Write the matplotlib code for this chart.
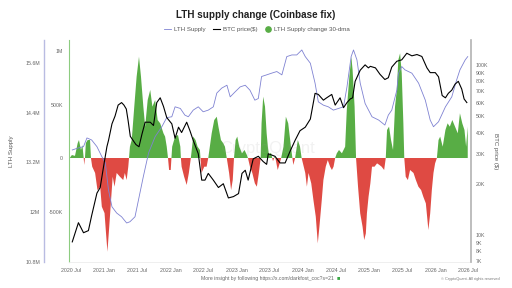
import pandas as pd
import matplotlib
matplotlib.use("Agg")
import matplotlib.pyplot as plt
from matplotlib.lines import Line2D

plt.rcParams["font.family"] = ["Liberation Sans", "DejaVu Sans"]

# =========================
# Data
# =========================
# LTH supply, millions of BTC
lth_dates = [
    "2020-07-08", "2020-08-11", "2020-09-08", "2020-09-27", "2020-10-23", "2020-11-21",
    "2020-12-18", "2021-01-06", "2021-01-24", "2021-02-12", "2021-03-10", "2021-04-06",
    "2021-05-04", "2021-05-22", "2021-06-19", "2021-07-16", "2021-08-04", "2021-09-02",
    "2021-10-08", "2021-11-14", "2021-12-11", "2022-01-08", "2022-01-26", "2022-02-24",
    "2022-03-21", "2022-04-09", "2022-05-06", "2022-06-03", "2022-06-30", "2022-07-28",
    "2022-08-25", "2022-09-13", "2022-10-10", "2022-11-08", "2022-11-26", "2022-12-23",
    "2023-01-20", "2023-02-17", "2023-03-15", "2023-04-11", "2023-04-30", "2023-05-18",
    "2023-06-15", "2023-07-12", "2023-08-10", "2023-09-07", "2023-10-04", "2023-11-01",
    "2023-11-28", "2023-12-26", "2024-01-14", "2024-02-11", "2024-03-08", "2024-03-26",
    "2024-04-23", "2024-05-20", "2024-06-17", "2024-07-15", "2024-08-12", "2024-08-31",
    "2024-09-23", "2024-10-06", "2024-10-25", "2024-11-12", "2024-12-09", "2025-01-16",
    "2025-02-22", "2025-03-28", "2025-04-16", "2025-05-05", "2025-06-02", "2025-06-11",
    "2025-06-29", "2025-07-17", "2025-08-24", "2025-09-30", "2025-11-06", "2025-12-03",
    "2025-12-21", "2026-01-18", "2026-02-25", "2026-04-01", "2026-04-28", "2026-05-16",
    "2026-06-14", "2026-06-28",
]
lth_supply = [
    13.50, 13.55, 13.58, 13.79, 13.74, 13.58,
    13.34, 13.19, 12.53, 12.13, 11.98, 11.89,
    11.74, 11.77, 11.89, 12.46, 12.86, 13.43,
    13.82, 14.06, 14.28, 14.30, 14.54, 14.50,
    14.34, 14.30, 14.46, 14.54, 14.42, 14.46,
    14.54, 14.87, 14.99, 15.06, 14.78, 14.90,
    15.02, 15.06, 14.94, 14.70, 14.74, 15.27,
    15.31, 15.35, 15.39, 15.31, 15.75, 15.79,
    15.79, 15.91, 15.75, 15.59, 15.11, 14.66,
    14.58, 14.54, 14.46, 14.50, 14.54, 15.02,
    15.75, 15.91, 15.67, 15.11, 14.62, 14.30,
    14.22, 14.10, 14.34, 14.46, 14.94, 15.35,
    15.51, 15.43, 15.35, 15.11, 14.70, 14.22,
    14.06, 14.18, 14.54, 14.78, 15.19, 15.43,
    15.67, 15.75,
]

# BTC price, thousands of USD
btc_dates = [
    "2020-07-08", "2020-08-11", "2020-09-08", "2020-10-05", "2020-10-23", "2020-11-21",
    "2020-12-09", "2020-12-27", "2021-01-15", "2021-01-24", "2021-02-12", "2021-03-01",
    "2021-03-18", "2021-04-06", "2021-04-19", "2021-05-02", "2021-05-12", "2021-05-24",
    "2021-06-08", "2021-06-24", "2021-07-11", "2021-07-27", "2021-08-14", "2021-09-11",
    "2021-09-29", "2021-10-17", "2021-11-05", "2021-11-23", "2021-12-11", "2022-01-08",
    "2022-01-26", "2022-02-14", "2022-03-03", "2022-03-31", "2022-04-18", "2022-05-06",
    "2022-06-03", "2022-06-22", "2022-07-10", "2022-07-28", "2022-08-25", "2022-09-22",
    "2022-10-19", "2022-11-16", "2022-12-14", "2023-01-11", "2023-01-30", "2023-02-17",
    "2023-03-05", "2023-04-02", "2023-04-30", "2023-05-27", "2023-06-15", "2023-06-24",
    "2023-07-31", "2023-08-28", "2023-09-25", "2023-10-22", "2023-11-19", "2023-12-16",
    "2024-01-14", "2024-02-11", "2024-03-08", "2024-03-26", "2024-04-23", "2024-05-11",
    "2024-06-08", "2024-06-27", "2024-07-24", "2024-08-12", "2024-08-31", "2024-09-18",
    "2024-10-01", "2024-10-15", "2024-11-12", "2024-12-09", "2024-12-27", "2025-01-07",
    "2025-02-04", "2025-03-01", "2025-03-28", "2025-04-16", "2025-05-05", "2025-06-02",
    "2025-06-29", "2025-07-27", "2025-08-24", "2025-09-21", "2025-10-18", "2025-11-15",
    "2025-12-03", "2025-12-31", "2026-01-18", "2026-02-07", "2026-02-25", "2026-03-13",
    "2026-04-01", "2026-04-19", "2026-05-07", "2026-05-26", "2026-06-08", "2026-06-23",
]
btc_price = [
    9.1, 11.8, 10.3, 10.6, 13.0, 17.6,
    19.0, 25.0, 33.0, 36.0, 45.0, 50.0,
    58.0, 60.0, 58.0, 55.0, 47.0, 38.0,
    36.0, 34.0, 33.0, 39.0, 46.0, 46.0,
    44.0, 60.0, 64.0, 57.0, 49.0, 45.0,
    37.0, 43.0, 40.0, 46.0, 41.0, 36.0,
    30.0, 21.0, 21.0, 23.0, 21.0, 19.0,
    20.0, 16.5, 16.8, 17.5, 23.0, 24.0,
    21.0, 28.0, 29.0, 27.0, 26.0, 30.0,
    29.0, 26.5, 26.5, 31.0, 36.0, 41.0,
    43.0, 48.0, 68.0, 67.0, 62.0, 64.0,
    67.0, 58.0, 64.0, 56.0, 60.0, 63.0,
    64.0, 80.0, 93.0, 100.0, 96.0, 98.0,
    96.0, 88.0, 82.0, 84.0, 97.0, 105.0,
    107.0, 117.0, 113.0, 115.0, 112.0, 96.0,
    90.0, 90.0, 85.0, 66.0, 64.0, 68.0,
    71.0, 77.0, 80.0, 72.0, 63.0, 60.0,
]

# LTH supply change 30-dma, thousands of BTC
chg_dates = [
    "2020-06-24", "2020-07-06", "2020-07-23", "2020-08-07", "2020-08-14", "2020-08-25",
    "2020-09-02", "2020-09-09", "2020-09-12", "2020-09-16", "2020-09-21", "2020-10-01",
    "2020-10-14", "2020-10-19", "2020-10-26", "2020-11-11", "2020-11-24", "2020-12-09",
    "2020-12-18", "2021-01-02", "2021-01-10", "2021-01-18", "2021-01-28", "2021-02-07",
    "2021-02-16", "2021-02-26", "2021-03-10", "2021-03-28", "2021-04-15", "2021-04-24",
    "2021-05-04", "2021-05-13", "2021-05-17", "2021-05-22", "2021-06-01", "2021-06-15",
    "2021-06-28", "2021-07-11", "2021-07-22", "2021-08-04", "2021-08-14", "2021-08-28",
    "2021-09-11", "2021-09-23", "2021-10-08", "2021-10-22", "2021-11-05", "2021-11-23",
    "2021-12-02", "2021-12-11", "2021-12-18", "2021-12-24", "2022-01-02", "2022-01-06",
    "2022-01-10", "2022-01-26", "2022-02-11", "2022-02-24", "2022-02-27", "2022-03-03",
    "2022-03-17", "2022-03-31", "2022-04-12", "2022-04-23", "2022-05-06", "2022-05-19",
    "2022-05-30", "2022-06-12", "2022-06-15", "2022-06-21", "2022-07-06", "2022-07-19",
    "2022-07-28", "2022-08-16", "2022-08-30", "2022-09-13", "2022-09-22", "2022-10-06",
    "2022-10-19", "2022-10-28", "2022-11-07", "2022-11-20", "2022-12-01", "2022-12-10",
    "2022-12-17", "2022-12-26", "2023-01-04", "2023-01-15", "2023-01-30", "2023-02-13",
    "2023-02-26", "2023-03-04", "2023-03-15", "2023-03-28", "2023-04-11", "2023-04-22",
    "2023-05-03", "2023-05-13", "2023-05-18", "2023-05-27", "2023-06-06", "2023-06-15",
    "2023-06-22", "2023-06-28", "2023-07-09", "2023-07-20", "2023-07-31", "2023-08-15",
    "2023-08-26", "2023-09-03", "2023-09-16", "2023-09-29", "2023-10-12", "2023-10-27",
    "2023-11-04", "2023-11-09", "2023-11-19", "2023-12-04", "2023-12-16", "2023-12-25",
    "2024-01-14", "2024-01-23", "2024-02-01", "2024-02-16", "2024-02-28", "2024-03-12",
    "2024-03-23", "2024-04-01", "2024-04-14", "2024-04-23", "2024-05-06", "2024-05-17",
    "2024-05-30", "2024-06-09", "2024-06-18", "2024-06-27", "2024-07-06", "2024-07-18",
    "2024-08-03", "2024-08-21", "2024-08-30", "2024-09-13", "2024-09-24", "2024-10-01",
    "2024-10-12", "2024-10-20", "2024-10-31", "2024-11-12", "2024-11-25", "2024-12-04",
    "2024-12-13", "2024-12-19", "2024-12-28", "2025-01-07", "2025-01-16", "2025-01-30",
    "2025-02-13", "2025-02-26", "2025-03-10", "2025-03-24", "2025-04-02", "2025-04-09",
    "2025-04-20", "2025-05-01", "2025-05-12", "2025-05-23", "2025-06-02", "2025-06-10",
    "2025-06-20", "2025-06-29", "2025-07-08", "2025-07-13", "2025-07-21", "2025-08-02",
    "2025-08-14", "2025-09-02", "2025-09-15", "2025-09-29", "2025-10-14", "2025-10-26",
    "2025-11-09", "2025-11-23", "2025-12-03", "2025-12-12", "2025-12-21", "2025-12-30",
    "2026-01-09", "2026-01-18", "2026-01-27", "2026-02-10", "2026-02-25", "2026-03-09",
    "2026-03-21", "2026-04-04", "2026-04-19", "2026-05-04", "2026-05-16", "2026-05-29",
    "2026-06-10", "2026-06-19", "2026-06-28",
]
chg_values = [
    0, 28, 20, 140, 168, 75,
    120, 0, -65, 0, 140, 168,
    168, 0, -81, -140, -300, -270,
    -455, -515, -700, -876, -640, -393,
    -175, -268, -140, -175, -206, -140,
    -206, -81, 0, 106, 168, 480,
    760, 947, 760, 480, 293, 542,
    636, 480, 542, 355, 324, 231,
    200, 106, 0, -112, -112, 0,
    106, 200, 215, 106, 0, -81,
    -175, -252, -140, 0, 200, 168,
    106, 75, 0, -140, -81, -81,
    0, 231, 355, 386, 293, 168,
    137, 106, 0, -140, -300, -206,
    0, 168, 200, 106, 44, 75,
    28, 0, -81, -140, -237, -268,
    -140, 0, 324, 573, 480, 231,
    100, 28, 50, -30, 20, -112,
    -50, 0, 106, 386, 324, 106,
    0, -65, 0, 168, 106, 0,
    -140, -268, -140, -237, -393, -549,
    -798, -642, -393, -206, -81, -20,
    -81, -112, -81, 0, 44, 75,
    44, 106, 449, 760, 947, 823,
    480, 0, -268, -517, -642, -767,
    -705, -517, -362, -237, -81, -81,
    -50, -65, -81, -112, 0, 262,
    293, 168, 75, 480, 636, 916,
    979, 792, 324, 0, -175, -206,
    -112, -140, -206, -268, -300, -362,
    -424, -673, -517, -300, -140, -50,
    0, 168, 200, 106, 262, 324,
    293, 355, 293, 231, 418, 324,
    262, 106, 293,
]

x_tick_dates = [
    "2020-07-01", "2021-01-01", "2021-07-01", "2022-01-01", "2022-07-01", "2023-01-01",
    "2023-07-01", "2024-01-01", "2024-07-01", "2025-01-01", "2025-07-01", "2026-01-01",
    "2026-07-01",
]
x_tick_labels = [
    "2020 Jul", "2021 Jan", "2021 Jul", "2022 Jan", "2022 Jul", "2023 Jan",
    "2023 Jul", "2024 Jan", "2024 Jul", "2025 Jan", "2025 Jul", "2026 Jan",
    "2026 Jul",
]
lth_ticks = [10.8, 12.0, 13.2, 14.4, 15.6]
lth_tick_labels = ["10.8M", "12M", "13.2M", "14.4M", "15.6M"]
chg_ticks = [-500, 0, 500, 1000]
chg_tick_labels = ["-500K", "0", "500K", "1M"]
btc_ticks = [7, 8, 9, 10, 20, 30, 40, 50, 60, 70, 80, 90, 100]
btc_tick_labels = [f"{t}K" for t in btc_ticks]

GREEN = "#58ad45"
RED = "#df4a43"
LAVENDER = "#7f82d2"
TICK_COLOR = "#666666"
FS_TICK = 3.8


def main():
    lth_t = pd.to_datetime(lth_dates)
    btc_t = pd.to_datetime(btc_dates)
    chg_t = pd.to_datetime(chg_dates)
    chg = pd.Series(chg_values, dtype=float)

    fig = plt.figure(figsize=(5.12, 2.88), dpi=100)
    ax = fig.add_axes([69 / 512, 1 - 262 / 288, 402 / 512, 222 / 288])

    # change bars (host axis, green spine)
    ax.fill_between(chg_t, chg, 0, where=chg >= 0, interpolate=True,
                    color=GREEN, linewidth=0)
    ax.fill_between(chg_t, chg, 0, where=chg <= 0, interpolate=True,
                    color=RED, linewidth=0)
    ax.set_ylim(-972, 1103)
    ax.set_yticks(chg_ticks)
    ax.set_yticklabels(chg_tick_labels)
    ax.set_xlim(pd.Timestamp("2020-06-20"), pd.Timestamp("2026-07-16"))
    ax.set_xticks(pd.to_datetime(x_tick_dates))
    ax.set_xticklabels(x_tick_labels)
    ax.tick_params(axis="both", length=0, labelsize=FS_TICK, labelcolor=TICK_COLOR)
    ax.tick_params(axis="x", pad=4.2)
    ax.tick_params(axis="y", pad=4.2)
    for side in ("top", "right"):
        ax.spines[side].set_visible(False)
    ax.spines["left"].set_color("#8dcc80")
    ax.spines["left"].set_linewidth(0.8)
    ax.spines["bottom"].set_color("#ececec")
    ax.spines["bottom"].set_linewidth(0.6)

    ax.text(0.495, 0.51, "CryptoQuant", transform=ax.transAxes, ha="center",
            va="center", fontsize=12, color="#9a9a9a", alpha=0.13, zorder=5)

    # LTH supply (outer left axis)
    ax_lth = ax.twinx()
    ax_lth.plot(lth_t, lth_supply, color=LAVENDER, linewidth=0.6)
    ax_lth.set_ylim(10.8, 16.15)
    ax_lth.yaxis.tick_left()
    ax_lth.yaxis.set_label_position("left")
    ax_lth.set_yticks(lth_ticks)
    ax_lth.set_yticklabels(lth_tick_labels)
    ax_lth.tick_params(axis="y", length=0, labelsize=FS_TICK, labelcolor=TICK_COLOR, pad=3)
    ax_lth.spines["left"].set_position(("outward", 18))
    ax_lth.spines["left"].set_color("#b9bce2")
    ax_lth.spines["left"].set_linewidth(1.0)
    for side in ("top", "right", "bottom"):
        ax_lth.spines[side].set_visible(False)
    ax_lth.set_ylabel("LTH Supply", fontsize=4.4, color="#555555")
    ax_lth.yaxis.set_label_coords(-0.137, 0.5)

    # BTC price (right log axis)
    ax_btc = ax.twinx()
    ax_btc.plot(btc_t, btc_price, color="black", linewidth=0.8)
    ax_btc.set_yscale("log")
    ax_btc.set_ylim(6.93, 140)
    ax_btc.set_yticks(btc_ticks)
    ax_btc.set_yticklabels(btc_tick_labels)
    ax_btc.minorticks_off()
    ax_btc.tick_params(axis="y", length=0, labelsize=FS_TICK, labelcolor=TICK_COLOR, pad=3.5)
    for side in ("top", "left", "bottom"):
        ax_btc.spines[side].set_visible(False)
    ax_btc.spines["right"].set_color("#b3b3b3")
    ax_btc.spines["right"].set_linewidth(1.2)
    ax_btc.set_ylabel("BTC price ($)", fontsize=4.4, color="#555555", rotation=270)
    ax_btc.yaxis.set_label_coords(1.066, 0.5)

    # title, legend, footer
    fig.text(0.5, 0.948, "LTH supply change (Coinbase fix)", ha="center", va="center",
             fontsize=7.1, fontweight="bold", color="#222222")
    handles = [
        Line2D([], [], color=LAVENDER, linewidth=0.6),
        Line2D([], [], color="black", linewidth=0.8),
        Line2D([], [], color=GREEN, marker="o", linestyle="none", markersize=3.8),
    ]
    labels = ["LTH Supply", "BTC price($)", "LTH Supply change 30-dma"]
    fig.legend(handles, labels, loc="center", bbox_to_anchor=(0.502, 0.899), ncol=3,
               frameon=False, fontsize=4.4, labelcolor="#555555", handlelength=1.2,
               handletextpad=0.4, columnspacing=1.2)

    fig.text(0.522, 0.034, "More insight by following https://x.com/darkfost_coc?s=21",
             ha="center", va="center", fontsize=3.7, color="#666666")
    fig.text(0.658, 0.036, "\u25a0", ha="left", va="center", fontsize=4, color="#3aa845")
    fig.text(0.975, 0.031, "\u00a9 CryptoQuant. All rights reserved", ha="right",
             va="center", fontsize=2.8, color="#777777")

    fig.savefig("out.png", dpi=100)
    plt.close(fig)


if __name__ == "__main__":
    main()
